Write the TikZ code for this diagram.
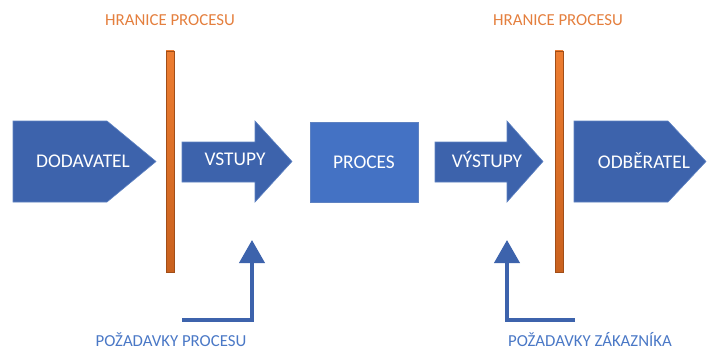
\documentclass[tikz,border=0pt]{standalone}
\usepackage{fontspec}
\setmainfont{Carlito}
\usetikzlibrary{arrows.meta,positioning}
\definecolor{tmava}{HTML}{3D63AC}
\definecolor{svetla}{HTML}{4472C4}
\definecolor{obrys}{HTML}{5E82C2}
\definecolor{oranz}{HTML}{ED7D31}
\definecolor{oranztm}{HTML}{C9611E}
\definecolor{popisor}{HTML}{E47F3E}
\definecolor{popismo}{HTML}{4A78C6}

\begin{document}
\begin{tikzpicture}[x=1pt,y=-1pt,
  tvar/.style={fill=tmava,draw=obrys,line width=0.6pt},
  napis/.style={text=white,font=\fontsize{19.4}{19.4}\selectfont,inner sep=0pt},
  hranice/.style={top color=oranz,bottom color=oranztm,draw=oranztm!80!black,line width=0.6pt},
  popis/.style={font=\fontsize{16.8}{16.8}\selectfont,inner sep=0pt},
  pozad/.style={draw=tmava,line width=4pt,line join=miter,-{Triangle[width=25pt,length=23pt]}}]

  \useasboundingbox (0,0) rectangle (708,350);

        % tvary
        \draw[tvar] (13,121) -- (107,121) -- (156,161.5) -- (107,202) -- (13,202) -- cycle;
        \draw[tvar] (182,142) -- (255,142) -- (255,121) -- (292,161.5) -- (255,202) -- (255,182) -- (182,182) -- cycle;
        \draw[fill=svetla,draw=obrys,line width=0.6pt] (310,122) rectangle (418,202);
        \draw[tvar] (435,142) -- (507,142) -- (507,121) -- (543,161.5) -- (507,202) -- (507,182) -- (435,182) -- cycle;
        \draw[tvar] (574,121) -- (668,121) -- (706,161.5) -- (668,202) -- (574,202) -- cycle;

        \node[napis] (dod) at (83,161) {DODAVATEL};
        \node[napis] (vst) at (235,159) {VSTUPY};
        \node[napis] (proc) at (364,162) {PROCES};
        \node[napis] (vyst) at (487,159) {VÝSTUPY};
        \node[napis] (odb) at (644,161) {ODBĚRATEL};

        % hranice procesu
        \draw[hranice] (166,51) rectangle (174,272);
        \draw[hranice] (555,51) rectangle (563,272);
        \node[popis,text=popisor] (hr1) at (170,20) {HRANICE PROCESU};
        \node[popis,text=popisor] (hr2) at (558,20) {HRANICE PROCESU};

        % pozadavky
        \coordinate (p1) at (182,320);
        \coordinate (p1c) at (252,240);
        \coordinate (p2) at (575,320);
        \coordinate (p2c) at (507,240);
        \draw[pozad] (p1) -| (p1c);
        \draw[pozad] (p2) -| (p2c);
        \node[popis,text=popismo] (poz1) at (171,339.5) {POŽADAVKY PROCESU};
        \node[popis,text=popismo] (poz2) at (590,339.5) {POŽADAVKY ZÁKAZNÍKA};
      \end{tikzpicture}
\end{document}
